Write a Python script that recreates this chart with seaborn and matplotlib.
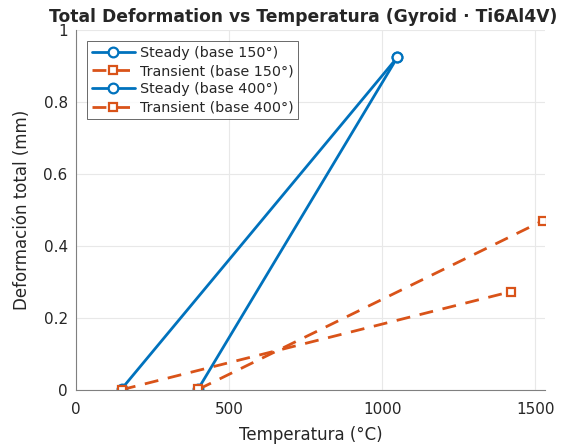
import matplotlib
matplotlib.use("Agg")
import matplotlib.pyplot as plt
import seaborn as sns

# Data
steady150_T = [150, 1050]
steady150_D = [0.004, 0.924]
trans150_T = [150, 1420]
trans150_D = [0.001, 0.273]
steady400_T = [400, 1050]
steady400_D = [0.004, 0.924]
trans400_T = [400, 1525]
trans400_D = [0.002, 0.470]

labels = ["Steady (base 150°)", "Transient (base 150°)",
          "Steady (base 400°)", "Transient (base 400°)"]
xticks = [0, 500, 1000, 1500]
yticks = [0, 0.2, 0.4, 0.6, 0.8, 1]
yticklabels = ["0", "0.2", "0.4", "0.6", "0.8", "1"]

sns.set_style("white")
plt.rcParams['font.family'] = ['DejaVu Sans']

fig = plt.figure(figsize=(5.76, 4.45), dpi=100)
ax = fig.add_axes([0.132, 0.1236, 0.814, 0.809])

blue = "#0072BD"
orange = "#D95319"
series = [
    (steady150_T, steady150_D, labels[0], blue, "-", "o", 7),
    (trans150_T, trans150_D, labels[1], orange, "--", "s", 6),
    (steady400_T, steady400_D, labels[2], blue, "-", "o", 7),
    (trans400_T, trans400_D, labels[3], orange, "--", "s", 6),
]
for xs, ys, lab, col, ls, mk, ms in series:
    sns.lineplot(x=xs, y=ys, ax=ax, label=lab, color=col, linestyle=ls,
                 marker=mk, markersize=ms, markerfacecolor="white",
                 markeredgecolor=col, markeredgewidth=1.6, linewidth=2,
                 sort=False, estimator=None, dashes=False)
for ln in ax.lines:
    if ln.get_linestyle() == "--":
        ln.set_dashes([5, 3.5])

ax.set_xlim(0, 1532)
ax.set_ylim(0, 1)
ax.set_xticks(xticks)
ax.set_xticklabels([str(t) for t in xticks])
ax.set_yticks(yticks)
ax.set_yticklabels(yticklabels)
ax.grid(True, color="#e8e8e8", linewidth=0.8)
ax.set_axisbelow(True)
for s in ["top", "right"]:
    ax.spines[s].set_visible(False)
for s in ["left", "bottom"]:
    ax.spines[s].set_color("#808080")
    ax.spines[s].set_linewidth(0.8)
ax.tick_params(direction="in", length=4, color="#808080", labelsize=11,
               labelcolor="#262626", width=0.8)
ax.tick_params(axis="x", pad=9)
ax.tick_params(axis="y", pad=6)
ax.set_xlabel("Temperatura (°C)", fontsize=12, color="#262626", labelpad=6)
ax.set_ylabel("Deformación total (mm)", fontsize=12, color="#262626", labelpad=9)
ax.set_title("Total Deformation vs Temperatura (Gyroid · Ti6Al4V)",
             fontsize=12.3, fontweight="bold", pad=6, x=0.485)

leg = ax.legend(loc="upper left", fontsize=10.3, frameon=True, fancybox=False,
                handlelength=3.0, borderpad=0.3, labelspacing=0.3,
                handletextpad=0.4, borderaxespad=0.8)
leg.get_frame().set_edgecolor("#262626")
leg.get_frame().set_linewidth(0.6)

fig.savefig("out.png", dpi=100)
